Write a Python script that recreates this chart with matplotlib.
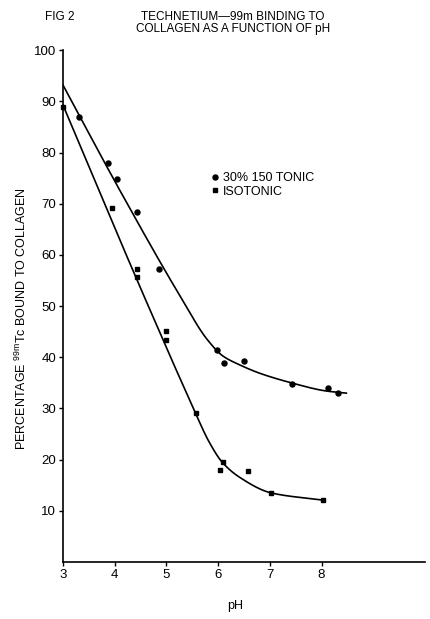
import numpy as np
import matplotlib
matplotlib.use("Agg")
import matplotlib.pyplot as plt
from matplotlib.lines import Line2D

plt.rcParams['font.family'] = ['Liberation Sans', 'DejaVu Sans']
plt.rcParams['mathtext.default'] = 'regular'

# measured points, 30% 150 tonic (circles)
ph_tonic = [3.31, 3.87, 4.05, 4.43, 4.86, 5.98, 6.12, 6.51, 7.42, 8.12, 8.31]
pct_tonic = [86.9, 77.9, 74.8, 68.4, 57.2, 41.4, 38.8, 39.2, 34.7, 34.0, 33.0]

# measured points, isotonic (squares)
ph_iso = [3.0, 3.95, 4.43, 4.43, 5.0, 5.0, 5.58, 6.09, 6.04, 6.57, 7.03, 8.02]
pct_iso = [88.9, 69.1, 57.2, 55.7, 45.1, 43.4, 29.1, 19.6, 18.0, 17.8, 13.4, 12.1]

# fitted curves
fit_tonic_x = [3.0, 4.09, 5.31, 5.78, 6.1, 6.4, 6.8, 7.42, 8.1, 8.48]
fit_tonic_y = [93.2, 72.8, 51.2, 43.6, 40.2, 38.6, 36.9, 35.0, 33.4, 33.0]
fit_iso_x = [3.0, 4.085, 4.6, 5.48, 5.83, 6.08, 6.41, 7.03, 8.02]
fit_iso_y = [89.3, 63.3, 51.2, 31.0, 23.4, 19.5, 16.6, 13.5, 12.1]

x_ticks = [3, 4, 5, 6, 7, 8]
y_ticks = [10, 20, 30, 40, 50, 60, 70, 80, 90, 100]


def pchip(xk, yk, n=300):
    # monotone cubic through the read-off knots
    xk = np.asarray(xk, float)
    yk = np.asarray(yk, float)
    h = np.diff(xk)
    d = np.diff(yk) / h
    m = np.zeros_like(xk)
    for i in range(1, len(xk) - 1):
        if d[i - 1] * d[i] > 0:
            w1 = 2 * h[i] + h[i - 1]
            w2 = h[i] + 2 * h[i - 1]
            m[i] = (w1 + w2) / (w1 / d[i - 1] + w2 / d[i])
    m[0] = d[0]
    m[-1] = d[-1]
    xs = np.linspace(xk[0], xk[-1], n)
    idx = np.clip(np.searchsorted(xk, xs) - 1, 0, len(h) - 1)
    t = (xs - xk[idx]) / h[idx]
    h00 = 2 * t**3 - 3 * t**2 + 1
    h10 = t**3 - 2 * t**2 + t
    h01 = -2 * t**3 + 3 * t**2
    h11 = t**3 - t**2
    ys = (h00 * yk[idx] + h10 * h[idx] * m[idx] +
          h01 * yk[idx + 1] + h11 * h[idx] * m[idx + 1])
    return xs, ys


fig = plt.figure(figsize=(4.31, 6.19), dpi=100)
ax = fig.add_axes([0.146, 0.092, 0.84, 0.827])

xs, ys = pchip(fit_tonic_x, fit_tonic_y)
ax.plot(xs, ys, color='black', lw=1.2)
xs, ys = pchip(fit_iso_x, fit_iso_y)
ax.plot(xs, ys, color='black', lw=1.2)

ax.plot(ph_tonic, pct_tonic, 'o', color='black', ms=3.6, clip_on=False)
ax.plot(ph_iso, pct_iso, 's', color='black', ms=3.2, clip_on=False)

ax.set_xlim(3, 10)
ax.set_ylim(0, 100)
ax.set_xticks(x_ticks)
ax.set_yticks(y_ticks)
ax.tick_params(labelsize=9.5, length=3, width=1, pad=2)
for s in ['top', 'right']:
    ax.spines[s].set_visible(False)
for s in ['left', 'bottom']:
    ax.spines[s].set_linewidth(1.2)

ax.set_xlabel('pH', fontsize=9, labelpad=20)
ax.xaxis.set_label_coords(0.475, -0.075)
ax.text(-0.115, 0.475, r'PERCENTAGE $^{99m}$Tc BOUND TO COLLAGEN',
        transform=ax.transAxes, rotation=90, fontsize=9,
        ha='center', va='center')

handles = [Line2D([], [], marker='o', ls='none', color='black', ms=3.6),
           Line2D([], [], marker='s', ls='none', color='black', ms=3.2)]
ax.legend(handles, ['30% 150 TONIC', 'ISOTONIC'], frameon=False,
          loc='upper left', bbox_to_anchor=(0.41, 0.762), fontsize=9,
          handlelength=0.6, handletextpad=0.3, labelspacing=0.15,
          borderpad=0, borderaxespad=0)

fig.text(0.105, 0.973, 'FIG 2', fontsize=8.5, ha='left', va='center')
fig.text(0.54, 0.963, 'TECHNETIUM\u201499m BINDING TO\nCOLLAGEN AS A FUNCTION OF pH',
         fontsize=8.5, ha='center', va='center', linespacing=1.0)

fig.savefig('out.png', dpi=100)
